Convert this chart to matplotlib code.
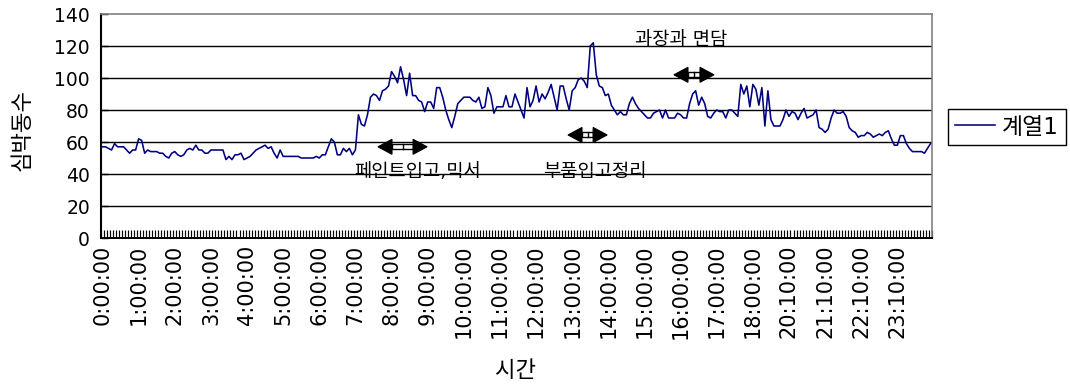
import matplotlib
matplotlib.use("Agg")
import matplotlib.pyplot as plt
from matplotlib.patches import Polygon, Rectangle
import numpy as np

plt.rcParams["font.family"] = ["DejaVu Sans", "Noto Sans CJK KR"]

# ---- data -----------------------------------------------------------------
series_name = "계열1"
y_title = "심박동수"
x_title = "시간"

# heart-rate samples, one row per labelled interval (12 samples)
heart_rate = [
    57, 57, 56, 55, 59, 57, 57, 57, 55, 53, 55, 55,
    62, 61, 53, 55, 54, 54, 54, 53, 53, 51, 50, 53,
    54, 52, 51, 52, 55, 56, 55, 58, 55, 55, 53, 53,
    55, 55, 55, 55, 55, 49, 51, 49, 52, 52, 53, 49,
    50, 51, 53, 55, 56, 57, 58, 56, 57, 53, 50, 55,
    51, 51, 51, 51, 51, 51, 50, 50, 50, 50, 50, 51,
    50, 52, 52, 57, 62, 60, 52, 52, 56, 54, 56, 52,
    55, 77, 71, 70, 77, 88, 90, 89, 86, 92, 93, 95,
    104, 101, 97, 107, 99, 89, 103, 89, 89, 86, 85, 79,
    85, 85, 81, 94, 94, 88, 80, 74, 69, 76, 84, 86,
    88, 88, 88, 86, 85, 88, 81, 82, 94, 89, 78, 82,
    82, 82, 89, 82, 82, 90, 85, 80, 75, 94, 82, 86,
    95, 85, 90, 87, 91, 96, 88, 80, 95, 95, 87, 80,
    92, 94, 99, 100, 98, 94, 120, 122, 102, 95, 94, 89,
    90, 83, 80, 77, 79, 77, 77, 84, 88, 84, 81, 79,
    77, 75, 75, 78, 79, 80, 75, 80, 75, 75, 75, 78,
    77, 75, 75, 84, 90, 92, 83, 88, 84, 76, 75, 78,
    80, 79, 79, 75, 80, 80, 78, 76, 96, 90, 95, 82,
    96, 93, 83, 94, 70, 92, 74, 70, 70, 70, 74, 80,
    76, 79, 78, 74, 78, 81, 75, 76, 77, 80, 69, 68,
    66, 68, 75, 80, 78, 78, 79, 76, 69, 67, 66, 63,
    64, 64, 66, 65, 63, 64, 65, 64, 66, 67, 62, 58,
    58, 64, 64, 59, 56, 54, 54, 54, 54, 53, 56, 59,
]

tick_labels = [
    "0:00:00", "1:00:00", "2:00:00", "3:00:00", "4:00:00", "5:00:00",
    "6:00:00", "7:00:00", "8:00:00", "9:00:00", "10:00:00", "11:00:00",
    "12:00:00", "13:00:00", "14:00:00", "15:00:00", "16:00:00", "17:00:00",
    "18:00:00", "20:10:00", "21:10:00", "22:10:00", "23:10:00",
]
label_step = 12
y_ticks = [0, 20, 40, 60, 80, 100, 120, 140]

# event notes: text, text position, arrow span and height (sample index / bpm)
event_texts = ["페인트입고,믹서", "부품입고정리", "과장과 면담"]
event_text_xy = [(104.6, 41.4), (163.6, 41.4), (192.1, 124.2)]
event_arrows = [(91.5, 107.8, 57.0), (154.6, 167.6, 64.4), (189.8, 203.1, 102.0)]

# ---- figure ---------------------------------------------------------------
W, H = 1070, 384
fig = plt.figure(figsize=(W / 100, H / 100), dpi=100)
ax_l, ax_b, ax_w, ax_h = 101, 146, 831, 224
ax = fig.add_axes([ax_l / W, ax_b / H, ax_w / W, ax_h / H])

n = len(heart_rate)
x = np.arange(n)
line, = ax.plot(x, heart_rate, color="#000080", lw=1.15, zorder=3, label=series_name)

ax.set_xlim(-0.5, n - 0.5)
ax.set_ylim(y_ticks[0], y_ticks[-1])

for yv in y_ticks[1:-1]:
    ax.axhline(yv, color="black", lw=1.0, zorder=1)

ax.set_yticks(y_ticks)
ax.tick_params(axis="y", direction="in", length=5, width=1, pad=8,
               labelsize=13.5, colors="black")

ax.set_xticks(np.arange(len(tick_labels)) * label_step)
ax.set_xticklabels(tick_labels, rotation=90, fontsize=15)
ax.set_xticks(np.arange(-0.5, n, 1), minor=True)
ax.tick_params(axis="x", which="major", length=0, pad=5)
ax.tick_params(axis="x", which="minor", direction="in", length=5.5,
               width=0.85, color="black")

ax.spines["left"].set_color("black")
ax.spines["left"].set_linewidth(1.5)
ax.spines["bottom"].set_color("black")
ax.spines["bottom"].set_linewidth(1.4)
for side in ("top", "right"):
    ax.spines[side].set_color("#808080")
    ax.spines[side].set_linewidth(1.2)

# double-headed arrows sized in pixels, converted to data units
ux = n / ax_w
uy = (y_ticks[-1] - y_ticks[0]) / ax_h


def double_arrow(x0, x1, y):
    hl, hh, sh = 14 * ux, 7.5 * uy, 2.5 * uy
    for tip, base in ((x0, x0 + hl), (x1, x1 - hl)):
        ax.add_patch(Polygon([(tip, y), (base, y + hh), (base, y - hh)],
                             closed=True, facecolor="black",
                             edgecolor="black", lw=0.8, zorder=5))
    ax.add_patch(Rectangle((x0 + hl, y - sh), (x1 - x0) - 2 * hl, 2 * sh,
                           facecolor="white", edgecolor="black", lw=1.0,
                           zorder=4))
    xm = (x0 + x1) / 2
    ax.plot([xm, xm], [y - sh, y + sh], color="black", lw=1.0, zorder=5)


for (x0, x1, y) in event_arrows:
    double_arrow(x0, x1, y)

for txt, (tx, ty) in zip(event_texts, event_text_xy):
    ax.text(tx, ty, txt, ha="center", va="center", fontsize=13.5,
            color="black", zorder=6)

# axis titles
fig.text(22 / W, 1 - 130 / H, y_title, rotation=90, ha="center",
         va="center", fontsize=16)
fig.text(516 / W, 1 - 371 / H, x_title, ha="center", va="center",
         fontsize=16)

# legend
leg = fig.legend(handles=[line], labels=[series_name], loc="center left",
                 bbox_to_anchor=(948 / W, 1 - 127 / H), frameon=True,
                 fancybox=False, edgecolor="black", framealpha=1,
                 fontsize=16.5, handlelength=1.75, handletextpad=0.3,
                 borderpad=0.3, borderaxespad=0)
leg.get_frame().set_linewidth(1.0)

fig.savefig("out.png", dpi=100)
